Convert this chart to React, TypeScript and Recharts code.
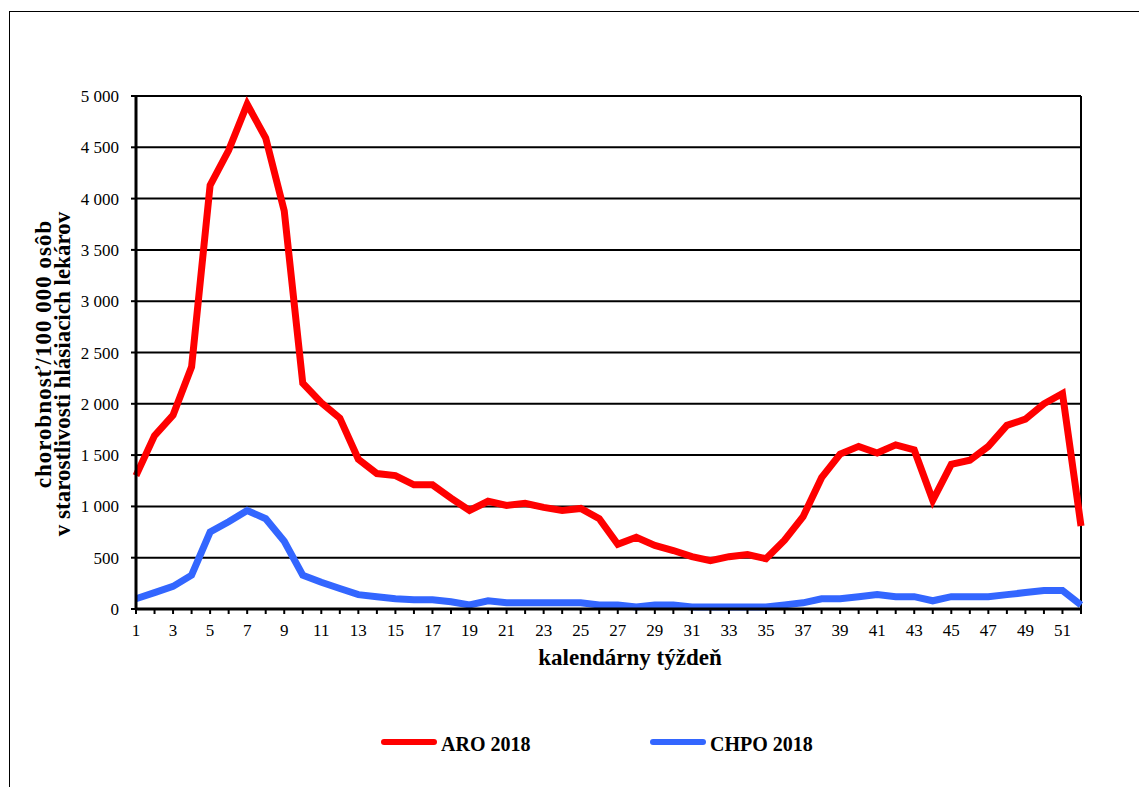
import React from 'react';
import {
  LineChart,
  Line,
  XAxis,
  YAxis,
  CartesianGrid,
  ReferenceLine,
  Legend,
} from 'recharts';

// calendar weeks 2018
const weeks = [
  1, 2, 3, 4, 5, 6, 7, 8, 9, 10, 11, 12, 13, 14, 15, 16, 17, 18, 19, 20, 21, 22, 23, 24, 25, 26,
  27, 28, 29, 30, 31, 32, 33, 34, 35, 36, 37, 38, 39, 40, 41, 42, 43, 44, 45, 46, 47, 48, 49, 50, 51, 52,
];

// ARO morbidity per 100 000
const aro = [
  1300, 1690, 1890, 2360, 4130, 4470, 4920, 4590, 3880, 2200,
  2010, 1860, 1460, 1320, 1300, 1210, 1210, 1080, 960, 1050,
  1010, 1030, 990, 960, 980, 880, 630, 700, 620, 570,
  510, 470, 510, 530, 490, 670, 900, 1280, 1510, 1585,
  1520, 1600, 1550, 1060, 1410, 1450, 1585, 1790, 1850, 2000,
  2100, 810,
];

// CHPO morbidity per 100 000
const chpo = [
  100, 160, 220, 330, 750, 850, 960, 880, 660, 330,
  260, 200, 140, 120, 100, 90, 90, 70, 40, 80,
  60, 60, 60, 60, 60, 40, 40, 20, 40, 40,
  20, 20, 20, 20, 20, 40, 60, 100, 100, 120,
  140, 120, 120, 80, 120, 120, 120, 140, 160, 180,
  180, 40,
];

const yTicks = [0, 500, 1000, 1500, 2000, 2500, 3000, 3500, 4000, 4500, 5000];

const data = weeks.map((w, i) => ({ week: w, aro: aro[i], chpo: chpo[i] }));

const FONT = '"Liberation Serif", "Times New Roman", serif';

const fmt = (v: number) => String(v).replace(/\B(?=(\d{3})+(?!\d))/g, ' ');

// only odd weeks get a number, every week gets a tick mark
const WeekTick = (props: any) => {
  const { x, y, payload } = props;
  if (payload.value % 2 === 0) return <g />;
  return (
    <text x={x} y={y} dy="0.71em" textAnchor="middle" fontFamily={FONT} fontSize={17} fill="#000">
      {payload.value}
    </text>
  );
};

const YTitle = () => (
  <g fontFamily={FONT} fontWeight="bold" fontSize={23} fill="#000">
    <text x={51} y={354} transform="rotate(-90, 51, 354)" textAnchor="middle" letterSpacing={1}>
      chorobnosť/100 000 osôb
    </text>
    <text x={70} y={374} transform="rotate(-90, 70, 374)" textAnchor="middle">
      v starostlivosti hlásiacich lekárov
    </text>
  </g>
);

const XTitle = () => (
  <text x={630} y={665} textAnchor="middle" fontFamily={FONT} fontWeight="bold" fontSize={23} fill="#000">
    kalendárny týždeň
  </text>
);

const legendLeft = [381, 650];

const LegendBox = (props: any) => {
  const items = props.payload || [];
  return (
    <div style={{ position: 'relative', width: 1139, height: 40 }}>
      {items.map((it: any, i: number) => (
        <React.Fragment key={it.value}>
          <div
            style={{
              position: 'absolute',
              left: legendLeft[i],
              top: 19,
              width: 56,
              height: 6,
              borderRadius: 3,
              background: it.color,
            }}
          />
          <span
            style={{
              position: 'absolute',
              left: legendLeft[i] + 60,
              top: 14,
              fontFamily: FONT,
              fontWeight: 'bold',
              fontSize: 20,
              lineHeight: '20px',
              color: '#000',
              whiteSpace: 'nowrap',
            }}
          >
            {it.value}
          </span>
        </React.Fragment>
      ))}
    </div>
  );
};

export default function App() {
  return (
    <div style={{ position: 'fixed', left: 0, top: 0, width: 1139, height: 787, background: '#fff', overflow: 'hidden' }}>
      <LineChart
        width={1139}
        height={787}
        data={data}
        margin={{ top: 96, right: 58, bottom: 138, left: 0 }}
      >
        <CartesianGrid vertical={false} stroke="#000" strokeWidth={2} strokeOpacity={1} />
        <XAxis
          dataKey="week"
          interval={0}
          height={40}
          tick={<WeekTick />}
          tickSize={5}
          tickMargin={10}
          tickLine={{ stroke: '#000', strokeWidth: 2 }}
          axisLine={{ stroke: '#000', strokeWidth: 3 }}
          label={{ content: () => <XTitle /> }}
        />
        <YAxis
          width={136}
          domain={[0, 5000]}
          ticks={yTicks}
          interval={0}
          tickFormatter={fmt}
          tickSize={5}
          tickMargin={12}
          tick={{ fontFamily: FONT, fontSize: 17, fill: '#000' }}
          tickLine={{ stroke: '#000', strokeWidth: 2 }}
          axisLine={{ stroke: '#000', strokeWidth: 3 }}
          label={{ content: () => <YTitle /> }}
        />
        <ReferenceLine x={52} stroke="#000" strokeWidth={2} />
        <Line
          dataKey="aro"
          name="ARO 2018"
          type="linear"
          stroke="#FF0000"
          strokeWidth={7}
          dot={false}
          activeDot={false}
          isAnimationActive={false}
        />
        <Line
          dataKey="chpo"
          name="CHPO 2018"
          type="linear"
          stroke="#3366FF"
          strokeWidth={7}
          dot={false}
          activeDot={false}
          isAnimationActive={false}
        />
        <Legend
          layout="horizontal"
          verticalAlign="middle"
          align="center"
          content={<LegendBox />}
          wrapperStyle={{ position: 'absolute', left: 0, top: 720, width: 1139, height: 40 }}
        />
      </LineChart>
      <div
        style={{
          position: 'absolute',
          left: 9,
          top: 11,
          width: 1140,
          height: 790,
          borderTop: '1px solid #000',
          borderLeft: '1px solid #000',
          pointerEvents: 'none',
        }}
      />
    </div>
  );
}
